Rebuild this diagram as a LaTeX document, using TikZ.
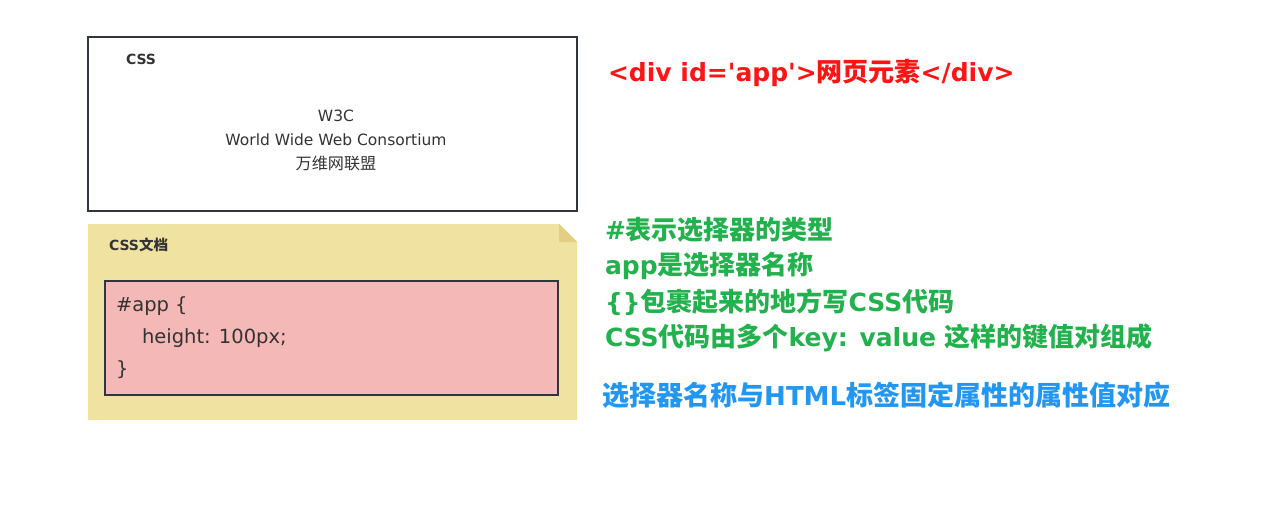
\documentclass[tikz,border=0pt]{standalone}
\usepackage{fontspec}
\setmainfont{DejaVu Sans}
\newfontfamily\cjk[Scale=1.04]{Noto Sans CJK SC}
\usetikzlibrary{positioning}

\definecolor{edgegray}{HTML}{2F3640}
\definecolor{textgray}{HTML}{333333}
\definecolor{notefill}{HTML}{F0E2A0}
\definecolor{notefold}{HTML}{E2CF82}
\definecolor{codefill}{HTML}{F4B8B6}
\definecolor{tipred}{HTML}{FF1414}
\definecolor{tipgreen}{HTML}{22B14C}
\definecolor{tipblue}{HTML}{2196F3}

\begin{document}
\begin{tikzpicture}[
  x=1pt, y=-1pt,
  every node/.style={inner sep=0pt, outer sep=0pt},
  panel/.style={draw=edgegray, line width=1.2pt, fill=white,
                minimum width=489pt, minimum height=174pt},
  codebox/.style={draw=edgegray, line width=1.2pt, fill=codefill,
                  minimum width=453pt, minimum height=114pt},
  title/.style={font=\fontsize{14}{16}\selectfont\bfseries, text=textgray, anchor=west},
  plain/.style={font=\fontsize{15.5}{24}\selectfont, text=textgray, align=center},
  code/.style={font=\fontsize{19.5}{32}\selectfont, text=textgray, anchor=west},
  tip/.style={font=\fontsize{25}{36}\selectfont\bfseries, anchor=west}
]
\useasboundingbox (0,0) rectangle (1275,532);

% W3C panel
\node[panel] (w3c) at (332.5,124) {};
\node[title] (w3ctitle) at (126,59) {CSS};
\node[plain] (w3ctext) at (336,140) {W3C\\World Wide Web Consortium\\{\cjk 万维网联盟}};

% CSS document (note)
\coordinate (nw) at (88,224);
\coordinate (fold) at (559,224);
\coordinate (foldend) at (577,242);
\coordinate (se) at (577,420);
\fill[notefill] (nw) -- (fold) -- (foldend) -- (se) -- (nw |- se) -- cycle;
\fill[notefold] (fold) -- (fold |- foldend) -- (foldend) -- cycle;
\node[title] (doctitle) at (109,245) {CSS{\cjk 文档}};
\node[codebox] (rule) at (331.5,338) {};
\node[code] (sel) at (116,306) {\#app \{};
\node[code] (decl) at (142,338) {height: 100px;};
\node[code] (close) at (116,370) {\}};

% notes on the right
\node[tip, text=tipred] (html) at (608,73)
  {<div id=\textquotesingle app\textquotesingle>{\cjk 网页元素}</div>};
\node[tip, text=tipgreen] (t1) at (605,230) {\#{\cjk 表示选择器的类型}};
\node[tip, text=tipgreen] (t2) at (605,266) {app{\cjk 是选择器名称}};
\node[tip, text=tipgreen] (t3) at (605,302) {\{\}{\cjk 包裹起来的地方写}CSS{\cjk 代码}};
\node[tip, text=tipgreen] (t4) at (605,338)
  {CSS{\cjk 代码由多个}key: value {\cjk 这样的键值对组成}};
\node[tip, text=tipblue, font=\fontsize{26}{36}\selectfont\bfseries] (t5) at (602,395)
  {{\cjk 选择器名称与}HTML{\cjk 标签固定属性的属性值对应}};
\end{tikzpicture}
\end{document}
